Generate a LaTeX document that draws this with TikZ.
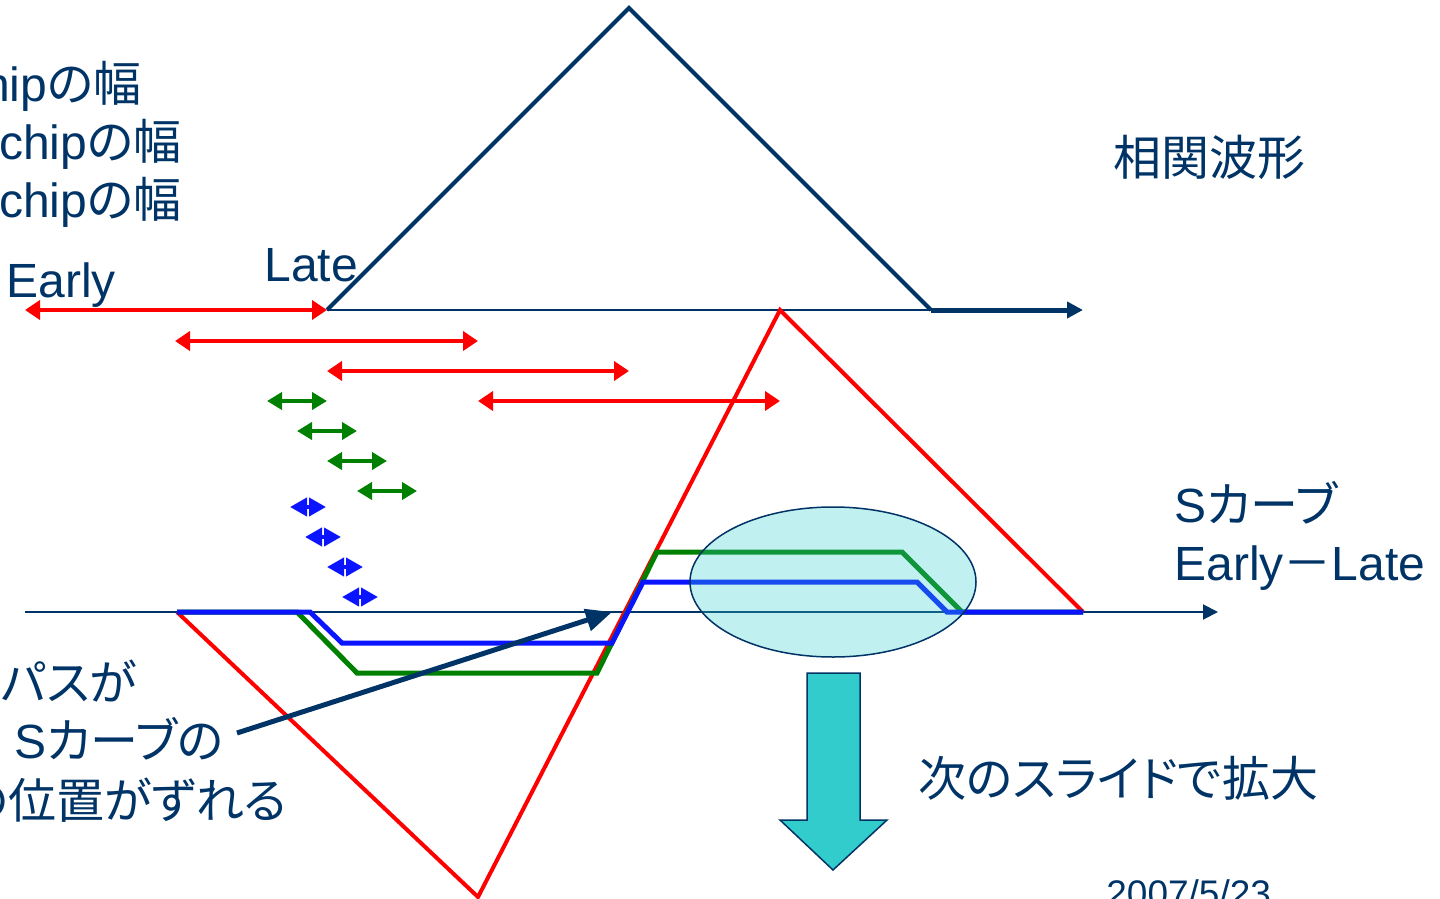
\documentclass[tikz,border=0pt]{standalone}
\usepackage{fontspec}
\setmainfont{Liberation Sans}
\newfontfamily\jp[RawFeature=+palt]{Noto Sans CJK JP}
\usetikzlibrary{arrows.meta}
\definecolor{navy}{RGB}{0,51,102}
\definecolor{ared}{RGB}{255,0,0}
\definecolor{agreen}{RGB}{0,128,0}
\definecolor{ablue}{RGB}{10,20,255}
\definecolor{acyan}{RGB}{51,204,204}
\begin{document}
\begin{tikzpicture}[x=0.5pt,y=-0.5pt,
  lbl/.style={text=navy,font=\fontsize{24}{28}\selectfont,inner sep=0pt},
  datelbl/.style={text=navy,font=\fontsize{18.5}{22}\selectfont,inner sep=0pt},
  redarr/.style={draw=ared,line width=2pt,{Triangle[length=7.5pt,width=9.5pt]}-{Triangle[length=7.5pt,width=9.5pt]}},
  grnarr/.style={draw=agreen,line width=2pt,{Triangle[length=7.5pt,width=8.5pt]}-{Triangle[length=7.5pt,width=8.5pt]}},
  bluarr/.style={draw=ablue,line width=2pt,{Triangle[length=8.5pt,width=9pt]}-{Triangle[length=8.5pt,width=9pt]}},
  thinaxis/.style={draw=navy,line width=1pt},
  curve/.style={line width=2.5pt,line join=miter}
]
\useasboundingbox (0,0) rectangle (1440,899);

% ---- correlation waveform (top) ----
\coordinate (tl) at (327,310);
\coordinate (ta) at (629,8);
\coordinate (tr) at (931,310);
\coordinate (tend) at (1083,310);
\draw[thinaxis] (tl) -- (tr);
\draw[navy,line width=2pt,line join=miter] (tl) -- (ta) -- (tr);
\draw[navy,line width=2.5pt,-{Triangle[length=8pt,width=8pt]}] (tr) -- (tend);

% ---- chip-width arrows ----
\draw[redarr] (25,310) -- (327,310);
\draw[redarr] (175,341) -- (478,341);
\draw[redarr] (327,371) -- (629,371);
\draw[redarr] (478,401) -- (780,401);

\draw[grnarr] (267,401) -- (327,401);
\draw[grnarr] (297,431) -- (357,431);
\draw[grnarr] (327,461) -- (387,461);
\draw[grnarr] (357,491) -- (417,491);

\draw[bluarr] (290,507) -- (326,507);
\draw[bluarr] (305,537) -- (341,537);
\draw[bluarr] (327,567) -- (363,567);
\draw[bluarr] (342,597) -- (378,597);

% ---- S-curve axis ----
\coordinate (ax0) at (25,612);
\coordinate (ax1) at (1218,612);
\draw[thinaxis,-{Triangle[length=7.5pt,width=7.5pt]}] (ax0) -- (ax1);

% red S-curve
\draw[ared,line width=2pt,line join=miter] (177,612) -- (478,897) -- (780,310) -- (1083,612);
% green S-curve
\draw[agreen,curve] (177,612) -- (297,612) -- (357,673) -- (597,673) -- (657,552) -- (902,552) -- (962,612) -- (1083,612);
% blue S-curve
\draw[ablue,curve] (177,612) -- (310,612) -- (342,643) -- (612,643) -- (643,582) -- (917,582) -- (947,612) -- (1083,612);

% highlighted ellipse
\draw[navy,line width=0.75pt,fill=acyan,fill opacity=0.3] (833,582) ellipse [x radius=71.5pt,y radius=37.5pt];

% multipath arrow
\coordinate (ns) at (237,733);
\coordinate (ne) at (612,612);
\draw[navy,line width=2.5pt,-{Triangle[length=13pt,width=11pt]}] (ns) -- (ne);

% big down arrow
\draw[navy,line width=0.75pt,fill=acyan,line join=miter]
  (807,673) -- (860,673) -- (860,820) -- (887,820) -- (833,870) -- (780,820) -- (807,820) -- cycle;

% ---- labels ----
\node[lbl,anchor=base east] (w1) at (142,102) {hip{\jp の幅}};
\node[lbl,anchor=base east] (w2) at (182,160) {chip{\jp の幅}};
\node[lbl,anchor=base east] (w3) at (182,217) {chip{\jp の幅}};
\node[lbl,anchor=base west] (early) at (6,297) {Early};
\node[lbl,anchor=base west] (late) at (264,281) {Late};
\node[lbl,anchor=base west] (corr) at (1113,176) {\jp 相関波形};
\node[lbl,anchor=base west] (sc1) at (1174,522) {S{\jp カーブ}};
\node[lbl,anchor=base west] (sc2) at (1174,580) {Early{\jp －}Late};
\node[lbl,anchor=base east] (m1) at (137,700) {\jp パスが};
\node[lbl,anchor=base east] (m2) at (224,758) {{\jp 、}\,S{\jp カーブの}};
\node[lbl,anchor=base east] (m3) at (287,818) {\jp の位置がずれる};
\node[lbl,anchor=base west] (next) at (918,796) {\jp 次のスライドで拡大};
\node[datelbl,anchor=base west] (date) at (1106,906) {2007/5/23};
\end{tikzpicture}
\end{document}
